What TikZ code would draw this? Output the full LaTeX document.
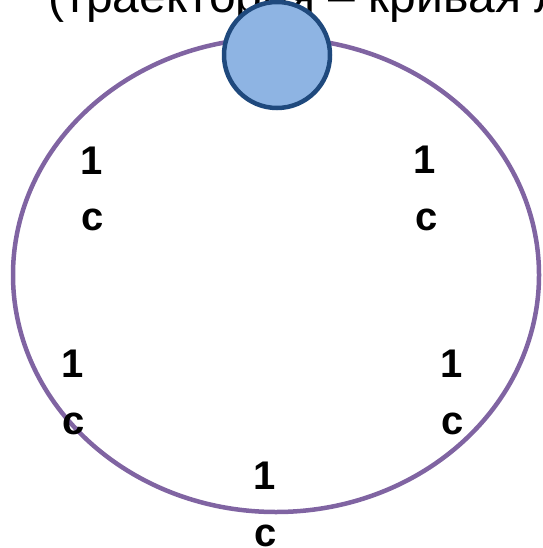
\documentclass[tikz,border=0pt]{standalone}
\usepackage{fontspec}
\setmainfont{Liberation Sans}
\definecolor{orbit}{HTML}{8064A2}
\definecolor{ballfill}{HTML}{8EB4E3}
\definecolor{ballline}{HTML}{1F497D}
\tikzset{
  lbl/.style={anchor=base, inner sep=0pt, font=\fontsize{40}{48}\selectfont\bfseries},
  ttl/.style={anchor=base west, inner sep=0pt, font=\fontsize{48}{56}\selectfont},
}
\begin{document}
\begin{tikzpicture}[x=1pt,y=-1pt]
\useasboundingbox (0,0) rectangle (542,548);
\clip (0,0) rectangle (542,548);
\node[ttl] (title) at (48,12.5) {(траектория – кривая линия)};
\draw[orbit, line width=4.5pt] (276,275) ellipse [x radius=263, y radius=237];
\node[circle, fill=ballfill, draw=ballline, line width=4.5pt, minimum size=106pt, inner sep=0pt] (ball) at (277,55) {};
\node[lbl] (a1) at (92,175) {1};
\node[lbl] (a2) at (93,230) {с};
\node[lbl] (b1) at (425,174) {1};
\node[lbl] (b2) at (427,230) {с};
\node[lbl] (c1) at (73,377) {1};
\node[lbl] (c2) at (74,434) {с};
\node[lbl] (d1) at (452,377) {1};
\node[lbl] (d2) at (453,434) {с};
\node[lbl] (e1) at (265,489) {1};
\node[lbl] (e2) at (266,546) {с};
\end{tikzpicture}
\end{document}
